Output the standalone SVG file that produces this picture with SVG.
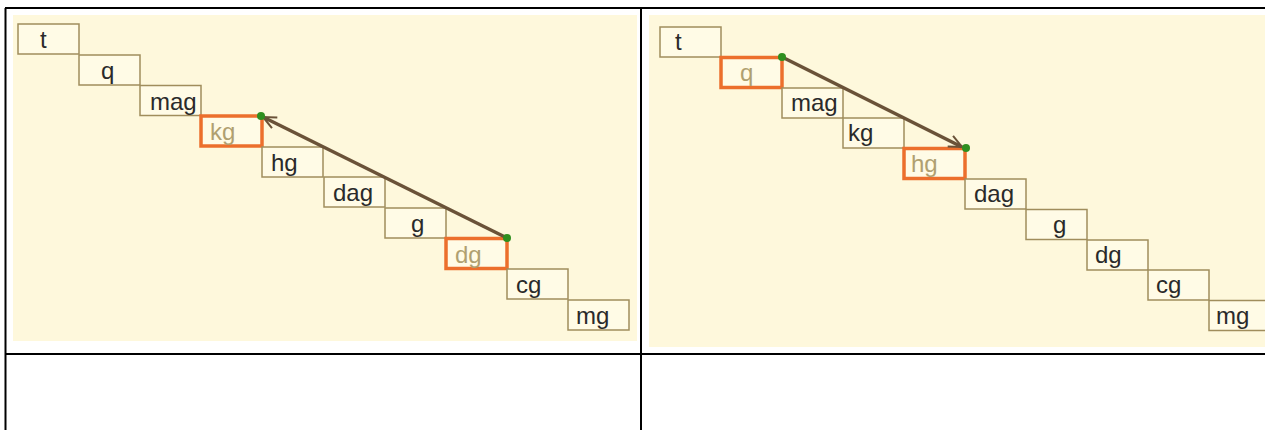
<svg xmlns="http://www.w3.org/2000/svg" width="1265" height="430" viewBox="0 0 1265 430">
<style>
.panel{fill:#fef8dc}
.box rect{fill:#fffbe6;stroke:#a08d5c;stroke-width:1.5}
.box text{font-family:"Liberation Sans",Arial,sans-serif;font-size:24px;fill:#2a2a2a}
.hl rect{stroke:#ec6f2c;stroke-width:3.5}
.hl text{fill:#b0a070}
.grid{stroke:#000;stroke-width:2;fill:none}
.arr{stroke:#6a5238;stroke-width:3.5;fill:none}
.dot{fill:#2f8f1f}
</style>
<defs>
<marker id="ah" markerUnits="userSpaceOnUse" markerWidth="18" markerHeight="16" refX="14" refY="7" orient="auto">
<path d="M1,1 L14,7 L1,13" fill="none" stroke="#6a5238" stroke-width="2"/>
</marker>
</defs>
<rect x="0" y="0" width="1265" height="430" fill="#fff"/>
<rect class="panel" x="13" y="15" width="624" height="326"/>
<rect class="panel" x="649" y="15" width="616" height="332"/>
<g id="grid">
<path class="grid" d="M5,8 H1265 M5.5,8 V430 M641,8 V430 M5,354 H1265"/>
</g>
<g id="left-nodes">
<g id="L-t" class="box"><rect x="18" y="24" width="61" height="30"/><text x="40" y="48">t</text></g>
<g id="L-q" class="box"><rect x="79" y="55" width="61" height="30"/><text x="101" y="79">q</text></g>
<g id="L-mag" class="box"><rect x="140" y="85.5" width="61" height="30"/><text x="150" y="109.5">mag</text></g>
<g id="L-kg" class="box hl"><rect x="201" y="116" width="61" height="30"/><text x="210" y="140">kg</text></g>
<g id="L-hg" class="box"><rect x="262" y="147" width="61" height="30"/><text x="271" y="171">hg</text></g>
<g id="L-dag" class="box"><rect x="324" y="177" width="61" height="30"/><text x="333" y="201">dag</text></g>
<g id="L-g" class="box"><rect x="385" y="208" width="61" height="30"/><text x="411" y="232">g</text></g>
<g id="L-dg" class="box hl"><rect x="446" y="238.5" width="61" height="30"/><text x="455" y="262.5">dg</text></g>
<g id="L-cg" class="box"><rect x="507" y="269" width="61" height="30"/><text x="516" y="293">cg</text></g>
<g id="L-mg" class="box"><rect x="568" y="300" width="61" height="30"/><text x="576" y="324">mg</text></g>
</g>
<g id="right-nodes">
<g id="R-t" class="box"><rect x="660" y="27" width="61" height="30"/><text x="675" y="50">t</text></g>
<g id="R-q" class="box hl"><rect x="721" y="57.5" width="61" height="30"/><text x="740" y="80.5">q</text></g>
<g id="R-mag" class="box"><rect x="782" y="88" width="61" height="30"/><text x="791" y="111">mag</text></g>
<g id="R-kg" class="box"><rect x="843" y="118" width="61" height="30"/><text x="848" y="141">kg</text></g>
<g id="R-hg" class="box hl"><rect x="904" y="148.5" width="61" height="30"/><text x="911" y="171.5">hg</text></g>
<g id="R-dag" class="box"><rect x="965" y="179" width="61" height="30"/><text x="974" y="202">dag</text></g>
<g id="R-g" class="box"><rect x="1026" y="209.5" width="61" height="30"/><text x="1053" y="232.5">g</text></g>
<g id="R-dg" class="box"><rect x="1087" y="240" width="61" height="30"/><text x="1095" y="263">dg</text></g>
<g id="R-cg" class="box"><rect x="1148" y="270" width="61" height="30"/><text x="1156" y="293">cg</text></g>
<g id="R-mg" class="box"><rect x="1209" y="300.5" width="61" height="30"/><text x="1216" y="323.5">mg</text></g>
</g>
<g id="connectors">
<line class="arr" x1="507" y1="238" x2="263" y2="117" marker-end="url(#ah)"/>
<line class="arr" x1="782" y1="57" x2="962" y2="147" marker-end="url(#ah)"/>
<circle class="dot" cx="507" cy="238" r="4"/>
<circle class="dot" cx="261" cy="116" r="4"/>
<circle class="dot" cx="782" cy="57" r="4"/>
<circle class="dot" cx="966" cy="148" r="4"/>
</g>
</svg>
